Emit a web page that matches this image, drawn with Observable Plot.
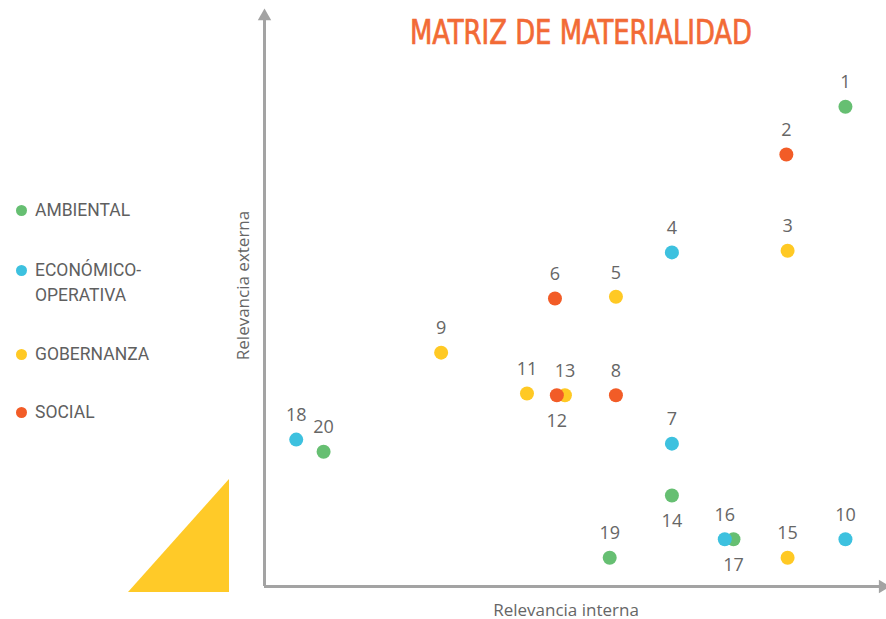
<!DOCTYPE html>
<html>
<head>
<meta charset="utf-8">
<script src="https://cdn.jsdelivr.net/npm/d3@7"></script>
<script src="https://cdn.jsdelivr.net/npm/@observablehq/plot@0.6"></script>
<style>
  body { margin: 0; background: #fff; }
  #wrap { position: relative; width: 886px; height: 619px; overflow: hidden; font-family: Roboto, sans-serif; background: #fff; }
  #chart { position: absolute; left: 0; top: 0; }
  #title { position: absolute; left: 410px; top: 13px; white-space: nowrap;
           font-family: "DejaVu Sans Condensed", "DejaVu Sans", sans-serif; font-stretch: condensed; font-size: 33px; color: #F26A35;
           -webkit-text-stroke: 0.7px #F26A35; transform-origin: left center; }
  #legend { position: absolute; left: 16px; top: 0; }
  .item { position: absolute; left: 0; display: flex; align-items: flex-start; white-space: nowrap; font-size: 17.5px; color: #5f5f5f; line-height: 25px; }
  .item i { display: inline-block; width: 11px; height: 11px; border-radius: 50%; margin: 7px 8px 0 0; }
  #tri { position: absolute; left: 128px; top: 479px; width: 101px; height: 113px; background: #FFCA28; clip-path: polygon(100% 0, 100% 100%, 0 100%); }
  .axlab { position: absolute; font-family: "Open Sans", sans-serif; font-size: 17px; color: #666; white-space: nowrap; }
</style>
</head>
<body>
<div id="wrap">
  <div id="chart"></div>
  <div id="tri"></div>
  <div id="title">MATRIZ DE MATERIALIDAD</div>
  <div id="legend"></div>
  <div id="xlab" class="axlab"></div>
  <div id="ylab" class="axlab"></div>
</div>
<script>
// Categories and colours
const categories = ["AMBIENTAL", "ECONÓMICO-OPERATIVA", "GOBERNANZA", "SOCIAL"];
const categoryLabels = [["AMBIENTAL"], ["ECONÓMICO-", "OPERATIVA"], ["GOBERNANZA"], ["SOCIAL"]];
const categoryColors = ["#66BF72", "#3DC1DF", "#FFC924", "#F25C27"];

// Topics (numbers), internal relevance (x), external relevance (y), category
const ids       = [1, 2, 3, 4, 5, 6, 7, 8, 9, 10, 11, 12, 13, 14, 15, 16, 17, 18, 19, 20];
const internal  = [93.4, 83.9, 84.1, 65.5, 56.5, 46.7, 65.5, 56.5, 28.4, 93.4, 42.2, 47.0, 48.3, 65.5, 84.1, 74.0, 75.4, 5.1, 55.5, 9.5];
const external  = [83.3, 75.0, 58.3, 58.0, 50.3, 50.0, 24.8, 33.2, 40.6, 8.2, 33.5, 33.2, 33.2, 15.8, 5.0, 8.2, 8.2, 25.5, 5.0, 23.4];
const category  = ["AMBIENTAL", "SOCIAL", "GOBERNANZA", "ECONÓMICO-OPERATIVA", "GOBERNANZA", "SOCIAL",
                   "ECONÓMICO-OPERATIVA", "SOCIAL", "GOBERNANZA", "ECONÓMICO-OPERATIVA", "GOBERNANZA", "SOCIAL",
                   "GOBERNANZA", "AMBIENTAL", "GOBERNANZA", "ECONÓMICO-OPERATIVA", "AMBIENTAL", "ECONÓMICO-OPERATIVA",
                   "AMBIENTAL", "AMBIENTAL"];
const labelsBelow = [12, 14, 17];

const xLabel = "Relevancia interna";
const yLabel = "Relevancia externa";

const data = ids.map((id, i) => ({id, x: internal[i], y: external[i], cat: category[i], below: labelsBelow.includes(id)}));
// draw order so 13 under 12 and 16 over 17
const drawOrder = [1,2,3,4,5,6,7,8,9,10,11,13,12,14,15,17,16,18,19,20];
const dotsData = drawOrder.map(id => data.find(d => d.id === id));

const axisColor = "#A3A3A3";

const plot = Plot.plot({
  width: 886,
  height: 619,
  marginLeft: 264,
  marginRight: 0,
  marginTop: 10,
  marginBottom: 33,
  x: {domain: [0, 100], axis: null},
  y: {domain: [0, 100], axis: null},
  color: {domain: categories, range: categoryColors},
  style: {fontFamily: "'Open Sans', sans-serif", background: "transparent"},
  marks: [
    Plot.ruleX([0], {y1: 0, y2: 98.5, stroke: axisColor, strokeWidth: 3}),
    Plot.ruleY([0], {x1: 0, x2: 99, stroke: axisColor, strokeWidth: 3}),
    Plot.dot([{x: 0, y: 99}], {x: "x", y: "y", symbol: "triangle", r: 5, fill: axisColor, stroke: "none"}),
    Plot.dot([{x: 99.4, y: 0}], {x: "x", y: "y", symbol: "triangle", r: 5, rotate: 90, fill: axisColor, stroke: "none"}),
    Plot.dot(dotsData, {x: "x", y: "y", fill: "cat", r: 7, stroke: "none"}),
    Plot.text(data, {x: "x", y: "y", text: d => String(d.id), fill: "#666", fontSize: 18,
      filter: d => !d.below, dy: -24}),
    Plot.text(data, {x: "x", y: "y", text: d => String(d.id), fill: "#666", fontSize: 18,
      filter: d => d.below, dy: 26})
  ]
});
document.getElementById("chart").appendChild(plot);

// axis labels
const xl = document.getElementById("xlab");
xl.textContent = xLabel;
const xw = xl.getBoundingClientRect();
xl.style.left = (566 - xw.width / 2) + "px";
xl.style.top = (609 - xw.height / 2) + "px";
const yl = document.getElementById("ylab");
yl.textContent = yLabel;
const yw = yl.getBoundingClientRect();
yl.style.left = (243 - yw.width / 2) + "px";
yl.style.top = (285 - yw.height / 2) + "px";
yl.style.transform = "rotate(-90deg)";

// legend
const legendTops = [198, 258, 342, 400];
const legend = document.getElementById("legend");
categories.forEach((c, i) => {
  const item = document.createElement("div");
  item.className = "item";
  item.style.top = legendTops[i] + "px";
  item.innerHTML = `<i style="background:${categoryColors[i]}"></i><div>${categoryLabels[i].join("<br>")}</div>`;
  legend.appendChild(item);
});

// fit title to width
const title = document.getElementById("title");
const w = title.getBoundingClientRect().width;
title.style.transform = `scaleX(${342 / w})`;
</script>
</body>
</html>
